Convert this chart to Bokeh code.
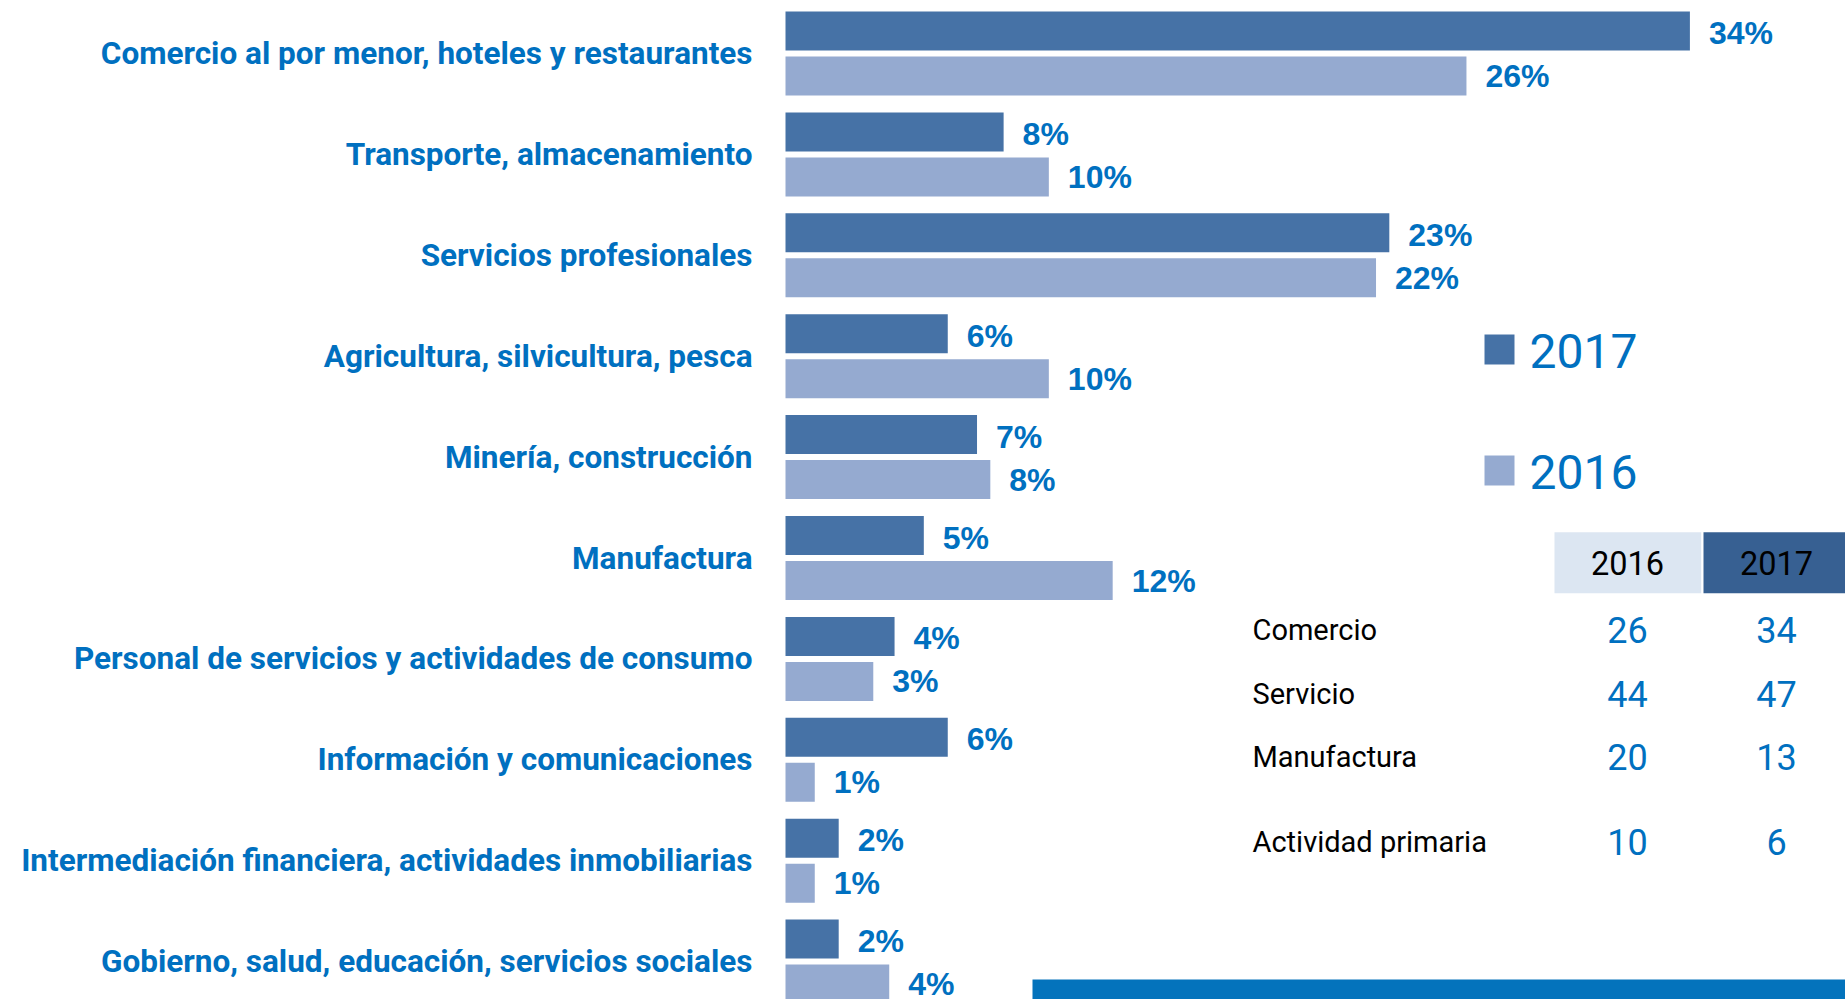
from bokeh.plotting import figure
from bokeh.models import Range1d, ColumnDataSource
from bokeh.transform import dodge
from bokeh.core.properties import value
from bokeh.embed import file_html
from bokeh.resources import INLINE

# ---------------- data ----------------
categories = [
    "Comercio al por menor, hoteles y restaurantes",
    "Transporte, almacenamiento",
    "Servicios profesionales",
    "Agricultura, silvicultura, pesca",
    "Minería, construcción",
    "Manufactura",
    "Personal de servicios y actividades de consumo",
    "Información y comunicaciones",
    "Intermediación financiera, actividades inmobiliarias",
    "Gobierno, salud, educación, servicios sociales",
]
share_2017 = [34.0, 8.2, 22.7, 6.1, 7.2, 5.2, 4.1, 6.1, 2.0, 2.0]
share_2016 = [25.6, 9.9, 22.2, 9.9, 7.7, 12.3, 3.3, 1.1, 1.1, 3.9]
label_2017 = ["34%", "8%", "23%", "6%", "7%", "5%", "4%", "6%", "2%", "2%"]
label_2016 = ["26%", "10%", "22%", "10%", "8%", "12%", "3%", "1%", "1%", "4%"]
legend_years = ["2017", "2016"]

table_header = ["2016", "2017"]
table_rows = ["Comercio", "Servicio", "Manufactura", "Actividad primaria"]
table_2016 = [26, 44, 20, 10]
table_2017 = [34, 47, 13, 6]

# ---------------- styles / layout ----------------
C17 = "#4672A6"
C16 = "#95AAD0"
BLUE = "#0070C0"
HDR16 = "#DCE6F2"
HDR17 = "#376092"
BANNER = "#0473BC"

W, H = 1845, 999
PX_PER_PCT = 26.6
BAR_X0 = 785.0
ROW0 = 53.0
PITCH = 100.9
OFF = 22.5 / PITCH
BAR_H = 39.0 / PITCH

p = figure(
    width=W, height=H,
    x_range=Range1d((0 - BAR_X0) / PX_PER_PCT, (W - BAR_X0) / PX_PER_PCT),
    y_range=Range1d((H - ROW0) / PITCH, (0 - ROW0) / PITCH),
    output_backend="svg", toolbar_location=None, min_border=0,
)
p.extra_x_ranges = {"px": Range1d(0, W)}
p.extra_y_ranges = {"px": Range1d(H, 0)}
p.axis.visible = False
p.grid.visible = False
p.outline_line_color = None
p.background_fill_color = "white"
p.border_fill_color = "white"

src = ColumnDataSource(dict(
    idx=list(range(len(categories))), cat=categories,
    v17=share_2017, v16=share_2016, l17=label_2017, l16=label_2016,
))

p.hbar(y=dodge("idx", -OFF), left=0, right="v17", height=BAR_H,
       fill_color=C17, line_color=None, source=src)
p.hbar(y=dodge("idx", OFF), left=0, right="v16", height=BAR_H,
       fill_color=C16, line_color=None, source=src)

lbl_kw = dict(text_align="left", text_baseline="middle", x_offset=19,
              text_font=value("Liberation Sans"), text_font_style="bold",
              text_font_size="32px", text_color=BLUE, source=src)
p.text(x="v17", y=dodge("idx", -OFF), text="l17", y_offset=2, **lbl_kw)
p.text(x="v16", y=dodge("idx", OFF), text="l16", y_offset=0, **lbl_kw)

p.text(x=0, y="idx", text="cat", x_offset=-33, text_align="right",
       text_baseline="middle", text_font=value("Roboto"), text_font_style="bold",
       text_font_size="31.5px", text_color=BLUE, source=src)

# ---------------- legend (manual) ----------------
px = dict(x_range_name="px", y_range_name="px")
leg = ColumnDataSource(dict(
    year=legend_years, color=[C17, C16],
    top=[334, 455], bottom=[364, 485], ty=[350, 471],
))
p.quad(left=1484, right=1514, top="top", bottom="bottom", fill_color="color",
       line_color=None, source=leg, **px)
p.text(x=1529, y="ty", text="year", text_align="left", text_baseline="middle",
       text_font=value("Roboto"), text_font_size="48px", text_color=BLUE,
       source=leg, **px)

# ---------------- table ----------------
col_x = [1627, 1776]
hdr = ColumnDataSource(dict(
    left=[1554, 1703], right=[1700.7, 1845], cx=col_x,
    txt=table_header, color=[HDR16, HDR17],
))
p.quad(left="left", right="right", top=531.7, bottom=592.7, fill_color="color",
       line_color=None, source=hdr, **px)
p.text(x="cx", y=562, text="txt", text_align="center", text_baseline="middle",
       text_font=value("Roboto"), text_font_size="32.5px", text_color="black",
       source=hdr, **px)

row_y = [629, 693, 756, 841]
tbl = ColumnDataSource(dict(
    name=table_rows, y=row_y,
    t16=[str(v) for v in table_2016], t17=[str(v) for v in table_2017],
))
p.text(x=1252, y="y", text="name", text_align="left", text_baseline="middle",
       text_font=value("Roboto"), text_font_size="29px", text_color="black",
       source=tbl, **px)
for xc, col in zip(col_x, ["t16", "t17"]):
    p.text(x=xc, y="y", text=col, text_align="center", text_baseline="middle",
           text_font=value("Roboto"), text_font_size="36px", text_color=BLUE,
           source=tbl, **px)

# bottom banner
p.quad(left=1032, right=W, top=979, bottom=H, fill_color=BANNER,
       line_color=None, **px)

open("out.html", "w").write(file_html(p, INLINE))
